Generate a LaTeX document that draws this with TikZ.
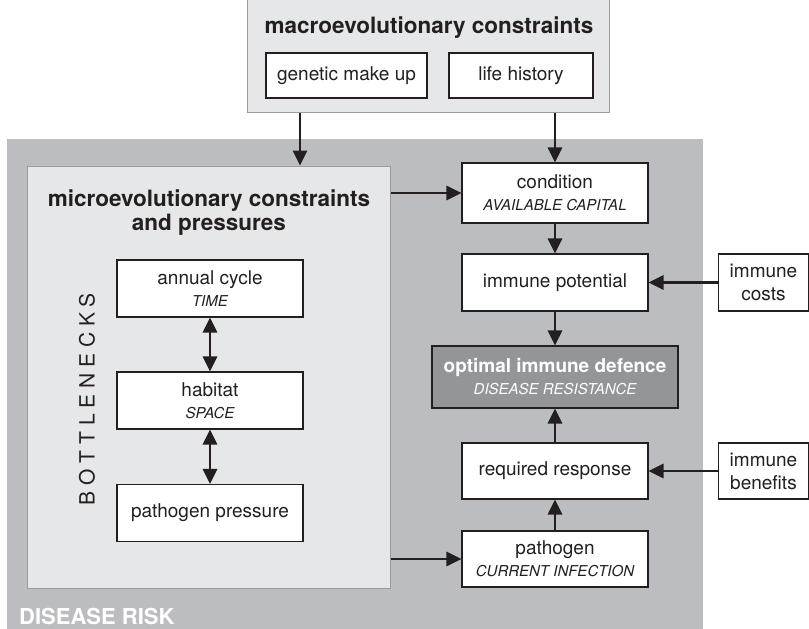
\documentclass[tikz,border=0pt]{standalone}
\usepackage{fontspec}
\setmainfont{TeX Gyre Heros}
\usetikzlibrary{arrows.meta}
\definecolor{outergray}{HTML}{BCBDC0}
\definecolor{panelgray}{HTML}{E6E7E8}
\definecolor{darkbox}{HTML}{939598}
\definecolor{ink}{HTML}{231F20}
\definecolor{edgegray}{HTML}{9A9B9D}
\begin{document}
\begin{tikzpicture}[x=1pt,y=-1pt,
  every node/.style={text=ink},
  box/.style={draw=ink, fill=white, line width=1.1pt, inner sep=0pt, align=center,
    font=\fontsize{19}{23}\selectfont},
  panel/.style={draw=edgegray, fill=panelgray, line width=1pt, inner sep=0pt},
  arr/.style={draw=ink, line width=2.8pt, -{Triangle[length=15pt,width=14pt]}},
  darr/.style={draw=ink, line width=2.8pt, {Triangle[length=15pt,width=14pt]}-{Triangle[length=15pt,width=14pt]}},
  title/.style={font=\fontsize{22.5}{24}\selectfont\bfseries, align=center, inner sep=0pt}
]
\useasboundingbox (0,0) rectangle (809,629);
\clip (0,0) rectangle (809,629);

% outer disease-risk area
\node[fill=outergray, minimum width=696pt, minimum height=495pt, inner sep=0pt] (outer) at (355,386.5) {};
\node[anchor=base west, inner sep=0pt, text=white, font=\fontsize{22}{24}\selectfont\bfseries] (risk) at (19,624) {DISEASE RISK};

% macroevolutionary box
\node[panel, minimum width=362pt, minimum height=113pt] (macro) at (428,56) {};
\node[title] (macrotitle) at (429,28) {macroevolutionary constraints};
\node[box, minimum width=161pt, minimum height=45pt] (genetic) at (346.5,75.5) {genetic make up};
\node[box, minimum width=144pt, minimum height=45pt] (life) at (521,75.5) {life history};

% microevolutionary panel
\node[panel, minimum width=363pt, minimum height=422pt] (micro) at (208.5,377) {};
\node[title] (microtitle) at (209,213) {microevolutionary constraints\\and pressures};
\node[rotate=90, inner sep=0pt, font=\fontsize{21}{24}\selectfont] (bottle) at (87,399)
  {B\hspace{5.8pt}O\hspace{5.8pt}T\hspace{5.8pt}T\hspace{5.8pt}L\hspace{5.8pt}E\hspace{5.8pt}N\hspace{5.8pt}E\hspace{5.8pt}C\hspace{5.8pt}K\hspace{5.8pt}S};

\node[box, minimum width=186pt, minimum height=57pt] (annual) at (210,288.5) {annual cycle\\[-1pt]{\fontsize{15}{18}\selectfont\itshape TIME}};
\node[box, minimum width=186pt, minimum height=57pt] (habitat) at (210,400.5) {habitat\\[-1pt]{\fontsize{15}{18}\selectfont\itshape SPACE}};
\node[box, minimum width=186pt, minimum height=57pt] (pathpress) at (210,513) {pathogen pressure};

% right column
\node[box, minimum width=186pt, minimum height=60pt] (condition) at (555,193) {condition\\[-1pt]{\fontsize{15}{18}\selectfont\itshape AVAILABLE CAPITAL}};
\node[box, minimum width=186pt, minimum height=57pt] (immpot) at (555,282.5) {immune potential};
\node[box, fill=darkbox, minimum width=246pt, minimum height=62pt, text=white] (optimal) at (555,377)
  {{\bfseries optimal immune defence}\\[-1pt]{\fontsize{15}{18}\selectfont\itshape DISEASE RESISTANCE}};
\node[box, minimum width=186pt, minimum height=56pt] (required) at (555,471) {required response};
\node[box, minimum width=186pt, minimum height=56pt] (pathogen) at (555,559) {pathogen\\[-1pt]{\fontsize{15}{18}\selectfont\itshape CURRENT INFECTION}};

\node[box, minimum width=90pt, minimum height=57pt] (costs) at (763.5,282.5) {immune\\costs};
\node[box, minimum width=90pt, minimum height=56pt] (benefits) at (763.5,471) {immune\\benefits};

% connectors
\coordinate (xA) at (300,0);
\draw[arr] (macro.south -| xA) -- (micro.north -| xA);
\draw[arr] (macro.south -| condition.north) -- (condition.north);
\draw[arr] (micro.east |- condition.west) -- (condition.west);
\draw[arr] (micro.east |- pathogen.west) -- (pathogen.west);
\draw[arr] (condition.south) -- (immpot.north);
\draw[arr] (immpot.south) -- (optimal.north);
\draw[arr] (required.north) -- (optimal.south);
\draw[arr] (pathogen.north) -- (required.south);
\draw[arr] (costs.west) -- (immpot.east);
\draw[arr] (benefits.west) -- (required.east);
\draw[darr] (annual.south) -- (habitat.north);
\draw[darr] (habitat.south) -- (pathpress.north);
\end{tikzpicture}
\end{document}
